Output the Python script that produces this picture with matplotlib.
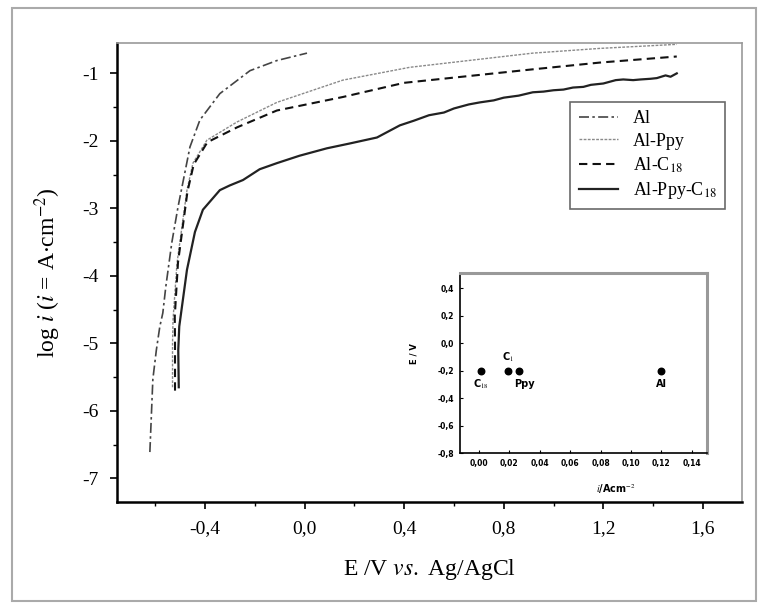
import matplotlib
matplotlib.use("Agg")
import matplotlib.pyplot as plt
from matplotlib.patches import Rectangle

plt.rcParams["font.family"] = ["Liberation Serif", "DejaVu Serif"]
plt.rcParams["mathtext.fontset"] = "stix"

# polarisation curves: E (V vs Ag/AgCl), log i
al_E = [-0.621, -0.609, -0.595, -0.581, -0.569, -0.557, -0.533, -0.508, -0.460,
        -0.420, -0.340, -0.219, -0.111, 0.010]
al_logi = [-6.61, -5.53, -5.10, -4.75, -4.55, -4.16, -3.51, -2.98, -2.09,
           -1.69, -1.30, -0.96, -0.81, -0.70]

ppy_E = [-0.530, -0.530, -0.528, -0.512, -0.472, -0.448, -0.392, -0.271, -0.111,
         0.154, 0.423, 0.917, 1.186, 1.495]
ppy_logi = [-5.65, -5.00, -4.65, -3.81, -2.73, -2.33, -1.99, -1.72, -1.43,
            -1.10, -0.91, -0.70, -0.63, -0.57]

c18_E = [-0.520, -0.520, -0.521, -0.508, -0.470, -0.445, -0.390, -0.271, -0.111,
         0.154, 0.400, 0.917, 1.186, 1.495]
c18_logi = [-5.70, -5.00, -4.60, -3.80, -2.75, -2.35, -2.02, -1.80, -1.55,
            -1.35, -1.14, -0.94, -0.84, -0.75]

ppyc18_E = [-0.505, -0.507, -0.503, -0.472, -0.440, -0.408, -0.340, -0.300, -0.247,
            -0.180, -0.111, -0.020, 0.090, 0.180, 0.291, 0.383, 0.440, 0.500,
            0.560, 0.600, 0.660, 0.704, 0.760, 0.800, 0.860, 0.917, 0.960,
            1.000, 1.040, 1.078, 1.120, 1.150, 1.200, 1.250, 1.280, 1.320,
            1.350, 1.390, 1.415, 1.450, 1.470, 1.495]
ppyc18_logi = [-5.65, -5.10, -4.75, -3.91, -3.35, -3.02, -2.73, -2.66, -2.58,
               -2.42, -2.33, -2.22, -2.11, -2.04, -1.95, -1.77, -1.70, -1.62,
               -1.58, -1.52, -1.46, -1.43, -1.40, -1.36, -1.33, -1.28, -1.27,
               -1.25, -1.24, -1.21, -1.20, -1.17, -1.15, -1.10, -1.09, -1.10,
               -1.09, -1.08, -1.07, -1.03, -1.05, -1.00]

x_ticks = [-0.4, 0.0, 0.4, 0.8, 1.2, 1.6]
x_ticklabels = ["-0,4", "0,0", "0,4", "0,8", "1,2", "1,6"]
y_ticks = [-7, -6, -5, -4, -3, -2, -1]
y_ticklabels = ["-7", "-6", "-5", "-4", "-3", "-2", "-1"]

# inset: corrosion potential vs current density
ins_names = ["C$_{18}$", "C$_1$", "Ppy", "Al"]
ins_i = [0.001, 0.019, 0.026, 0.120]
ins_E = [-0.2, -0.2, -0.2, -0.2]
ins_xticks = [0.00, 0.02, 0.04, 0.06, 0.08, 0.10, 0.12, 0.14]
ins_xticklabels = ["0,00", "0,02", "0,04", "0,06", "0,08", "0,10", "0,12", "0,14"]
ins_yticks = [-0.8, -0.6, -0.4, -0.2, 0.0, 0.2, 0.4]
ins_yticklabels = ["-0,8", "-0,6", "-0,4", "-0,2", "0,0", "0,2", "0,4"]

fig = plt.figure(figsize=(7.66, 6.11), dpi=100)
fig.patches.append(Rectangle((12 / 766, 1 - 601 / 611), 744 / 766, 593 / 611,
                             transform=fig.transFigure, fill=False,
                             edgecolor="#aaaaaa", lw=1.5))

ax = fig.add_axes([117 / 766, 1 - 502 / 611, 625 / 766, 459 / 611])
ax.plot(al_E, al_logi, color="#444444", lw=1.2, ls=(0, (6, 2, 1.5, 2)), label="Al")
ax.plot(ppy_E, ppy_logi, color="#8a8a8a", lw=1.0, ls=(0, (2, 1)), label="Al-Ppy")
ax.plot(c18_E, c18_logi, color="#111111", lw=1.5, ls=(0, (4, 2.5)), label="Al-C$_{18}$")
ax.plot(ppyc18_E, ppyc18_logi, color="#222222", lw=1.6, label="Al-Ppy-C$_{18}$")

ax.set_xlim(-0.753, 1.757)
ax.set_ylim(-7.35, -0.55)
ax.set_xticks(x_ticks)
ax.set_xticklabels(x_ticklabels)
ax.set_xticks([-0.6, -0.2, 0.2, 0.6, 1.0, 1.4], minor=True)
ax.set_yticks(y_ticks)
ax.set_yticklabels(y_ticklabels)
ax.set_yticks([-7.5 + k for k in range(1, 7)], minor=True)
ax.tick_params(which="major", direction="out", length=5, width=1.2, labelsize=14, pad=8)
ax.tick_params(which="minor", direction="out", length=3, width=1.0)
for s in ["left", "bottom"]:
    ax.spines[s].set_linewidth(1.8)
for s in ["top", "right"]:
    ax.spines[s].set_color("#999999")
    ax.spines[s].set_linewidth(1.2)

ax.set_xlabel(r"E /V $\it{vs.}$ Ag/AgCl", fontsize=17, labelpad=14)
ax.set_ylabel(r"log $i$ ($i$ = A$\cdot$cm$^{-2}$)", fontsize=17, labelpad=14)

leg = ax.legend(loc="upper right", bbox_to_anchor=(0.973, 0.871), borderaxespad=0,
                fontsize=13, frameon=True, fancybox=False, handlelength=2.2,
                labelspacing=0.3, borderpad=0.45)
leg.get_frame().set_edgecolor("#444444")
leg.get_frame().set_linewidth(1.2)

# inset
ins = fig.add_axes([460 / 766, 1 - 453 / 611, 247 / 766, 180 / 611])
ins.scatter(ins_i, ins_E, s=22, color="black", zorder=3)
offsets = [(0.0, -0.10), (0.0, 0.095), (0.004, -0.10), (0.0, -0.10)]
for name, xi, yi, (dx, dy) in zip(ins_names, ins_i, ins_E, offsets):
    ins.text(xi + dx, yi + dy, name, fontsize=7, ha="center", va="center",
             family="DejaVu Sans", fontweight="bold")
ins.set_xlim(-0.0125, 0.150)
ins.set_ylim(-0.8, 0.51)
ins.set_xticks(ins_xticks)
ins.set_xticklabels(ins_xticklabels)
ins.set_yticks(ins_yticks)
ins.set_yticklabels(ins_yticklabels)
ins.tick_params(direction="in", length=2.5, labelsize=5.5, pad=4)
for lab in ins.get_xticklabels() + ins.get_yticklabels():
    lab.set_family("DejaVu Sans")
    lab.set_fontweight("bold")
for s in ["left", "bottom"]:
    ins.spines[s].set_linewidth(1.2)
for s in ["top", "right"]:
    ins.spines[s].set_color("#999999")
    ins.spines[s].set_linewidth(2.2)
ins.set_xlabel(r"$\it{i}$/Acm$^{-2}$", fontsize=7, family="DejaVu Sans",
               fontweight="bold")
ins.xaxis.set_label_coords(0.63, -0.16)
ins.set_ylabel("E / V", fontsize=6, family="DejaVu Sans", fontweight="bold")
ins.yaxis.set_label_coords(-0.17, 0.55)

fig.savefig("out.png", dpi=100)
